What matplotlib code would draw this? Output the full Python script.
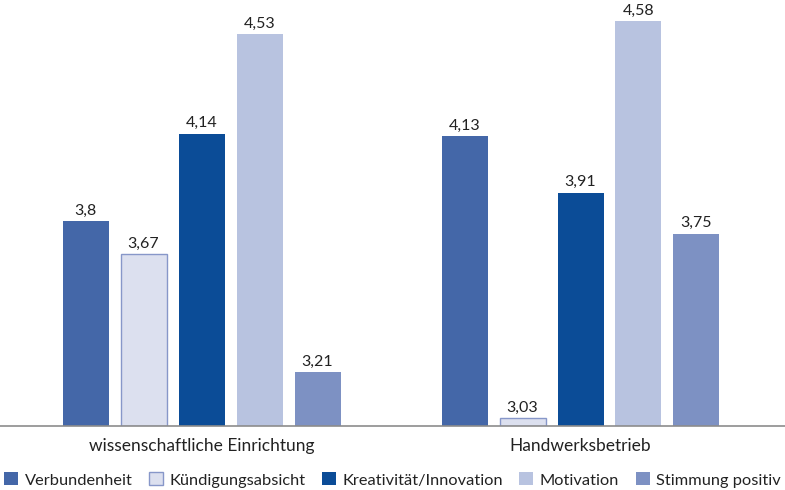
import matplotlib
matplotlib.use("Agg")
import matplotlib.pyplot as plt
import numpy as np

plt.rcParams['font.family'] = ['Lato', 'DejaVu Sans']

groups = ["wissenschaftliche Einrichtung", "Handwerksbetrieb"]
series = ["Verbundenheit", "Kündigungsabsicht", "Kreativität/Innovation", "Motivation", "Stimmung positiv"]
values = {
    "Verbundenheit": [3.80, 4.13],
    "Kündigungsabsicht": [3.67, 3.03],
    "Kreativität/Innovation": [4.14, 3.91],
    "Motivation": [4.53, 4.58],
    "Stimmung positiv": [3.21, 3.75],
}
labels = {
    "Verbundenheit": ["3,8", "4,13"],
    "Kündigungsabsicht": ["3,67", "3,03"],
    "Kreativität/Innovation": ["4,14", "3,91"],
    "Motivation": ["4,53", "4,58"],
    "Stimmung positiv": ["3,21", "3,75"],
}
colors = ["#4467A8", "#DCE0EF", "#0B4C97", "#B8C3E0", "#7D91C3"]
edges = ["#4467A8", "#8797C9", "#0B4C97", "#B8C3E0", "#7D91C3"]

W, H = 785, 490
fig = plt.figure(figsize=(W/100, H/100), dpi=100)
base_px = 425.7
ax = fig.add_axes([0, (H - base_px)/H, 1, base_px/H])

x = np.arange(len(groups))
step = 58/379
width = 46/379
for i, s in enumerate(series):
    pos = x + (i - 2) * step
    bars = ax.bar(pos, np.array(values[s]) - 3.0, bottom=3.0, width=width,
                  color=colors[i], edgecolor=edges[i], linewidth=1.0 if i == 1 else 0,
                  label=s, zorder=2)
    for b, lab in zip(bars, labels[s]):
        ax.annotate(lab, (b.get_x() + b.get_width()/2, b.get_y() + b.get_height()),
                    xytext=(0, 2.5), textcoords="offset points", ha="center", va="bottom",
                    fontsize=11.5, color="#222222")

ax.set_ylim(3.0, 3.0 + base_px/256)
ax.set_xlim(-201.5/379, (785 - 201.5)/379)
for sp in ["top", "right", "left"]:
    ax.spines[sp].set_visible(False)
ax.spines["bottom"].set_color("#8c8c8c")
ax.spines["bottom"].set_linewidth(1.2)
ax.set_yticks([])
ax.set_xticks(x)
ax.set_xticklabels(groups, fontsize=12.5, color="#222222")
ax.tick_params(axis="x", length=0, pad=9)

leg = fig.legend(loc="lower center", bbox_to_anchor=(0.5, -0.025), ncol=5, frameon=False,
                 fontsize=11.8, handlelength=0.85, handleheight=0.85, handletextpad=0.4,
                 columnspacing=1.0, labelcolor="#222222")
fig.savefig("out.png", dpi=100)
